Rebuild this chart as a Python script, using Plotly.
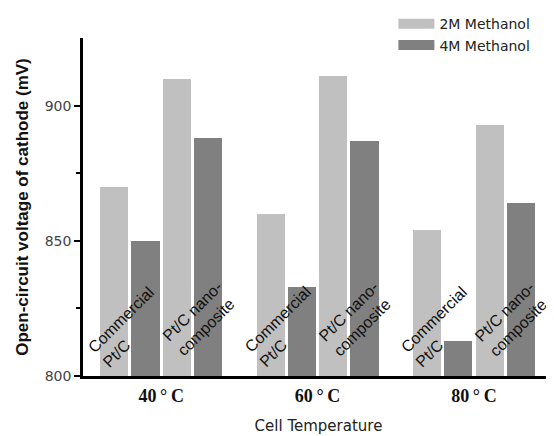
import plotly.graph_objects as go

temperatures = ["40\u2009°\u2009C", "60\u2009°\u2009C", "80\u2009°\u2009C"]
catalysts = ["Commercial<br>Pt/C", "Pt/C nano-<br>composite"]
series_names = ["2M Methanol", "4M Methanol"]
# values[temperature][catalyst] for each methanol concentration
voltage_2M = [[870, 910], [860, 911], [854, 893]]
voltage_4M = [[850, 888], [833, 887], [813, 864]]
colors = ["#c0c0c0", "#808080"]

slots_per_group = 5
def pos(ti, ci, si):
    return ti * slots_per_group + ci * 2 + si

fig = go.Figure()
for si, (name, vals) in enumerate(zip(series_names, [voltage_2M, voltage_4M])):
    xs, ys = [], []
    for ti in range(len(temperatures)):
        for ci in range(len(catalysts)):
            xs.append(pos(ti, ci, si))
            ys.append(vals[ti][ci])
    fig.add_trace(go.Bar(x=xs, y=ys, name=name, marker_color=colors[si],
                         marker_line_width=0, width=0.9, showlegend=False,
                         legendgroup=name))
    # legend proxy with wide swatch
    fig.add_trace(go.Scatter(x=[None], y=[None], mode="lines", name=name,
                             line=dict(color=colors[si], width=11),
                             legendgroup=name, showlegend=True))

# rotated catalyst labels
label_dx = [0.46, 0.73]
label_y = [818, 821]
for ti in range(len(temperatures)):
    for ci, cat in enumerate(catalysts):
        fig.add_annotation(x=pos(ti, ci, 0) + label_dx[ci], y=label_y[ci],
                           text=cat, showarrow=False, textangle=-45, align="left",
                           font=dict(family="Arial, Liberation Sans", size=16, color="#111"),
                           xref="x", yref="y")

group_centers = [pos(ti, 0, 0) + 1.5 for ti in range(len(temperatures))]

fig.update_layout(
    width=546, height=428,
    margin=dict(l=75, r=0, t=30, b=60, autoexpand=False),
    plot_bgcolor="white", paper_bgcolor="white",
    bargap=0,
    legend=dict(x=0.659, xanchor="left", y=1.088, yanchor="top",
                font=dict(family="DejaVu Sans", size=14, color="#222"),
                itemwidth=36, tracegroupgap=0, bgcolor="rgba(0,0,0,0)"),
    xaxis=dict(range=[-1, 14.06], tickmode="array", tickvals=group_centers,
               ticktext=temperatures, ticks="", showgrid=False, zeroline=False,
               showline=True, linecolor="black", linewidth=2.5, automargin=False,
               ticklabelstandoff=2,
               tickfont=dict(family="Times New Roman, Liberation Serif", size=18,
                             color="#111", weight="bold"),
               title=dict(text="Cell Temperature", standoff=16,
                          font=dict(family="DejaVu Sans", size=15, color="#222"))),
    yaxis=dict(range=[800, 925], tickvals=[800, 850, 900], ticks="outside",
               ticklen=6, tickwidth=1.5, tickcolor="black", showgrid=False,
               zeroline=False, showline=True, linecolor="black", linewidth=2.5,
               automargin=False,
               minor=dict(tickvals=[825, 875], ticks="outside", ticklen=4, tickcolor="black"),
               tickfont=dict(family="DejaVu Sans", size=14, color="#444"),
               title=dict(text="<b>Open-circuit voltage of cathode (mV)</b>", standoff=12,
                          font=dict(family="Arial, Liberation Sans", size=17, color="#111"))),
)

fig.write_html("out.html")
